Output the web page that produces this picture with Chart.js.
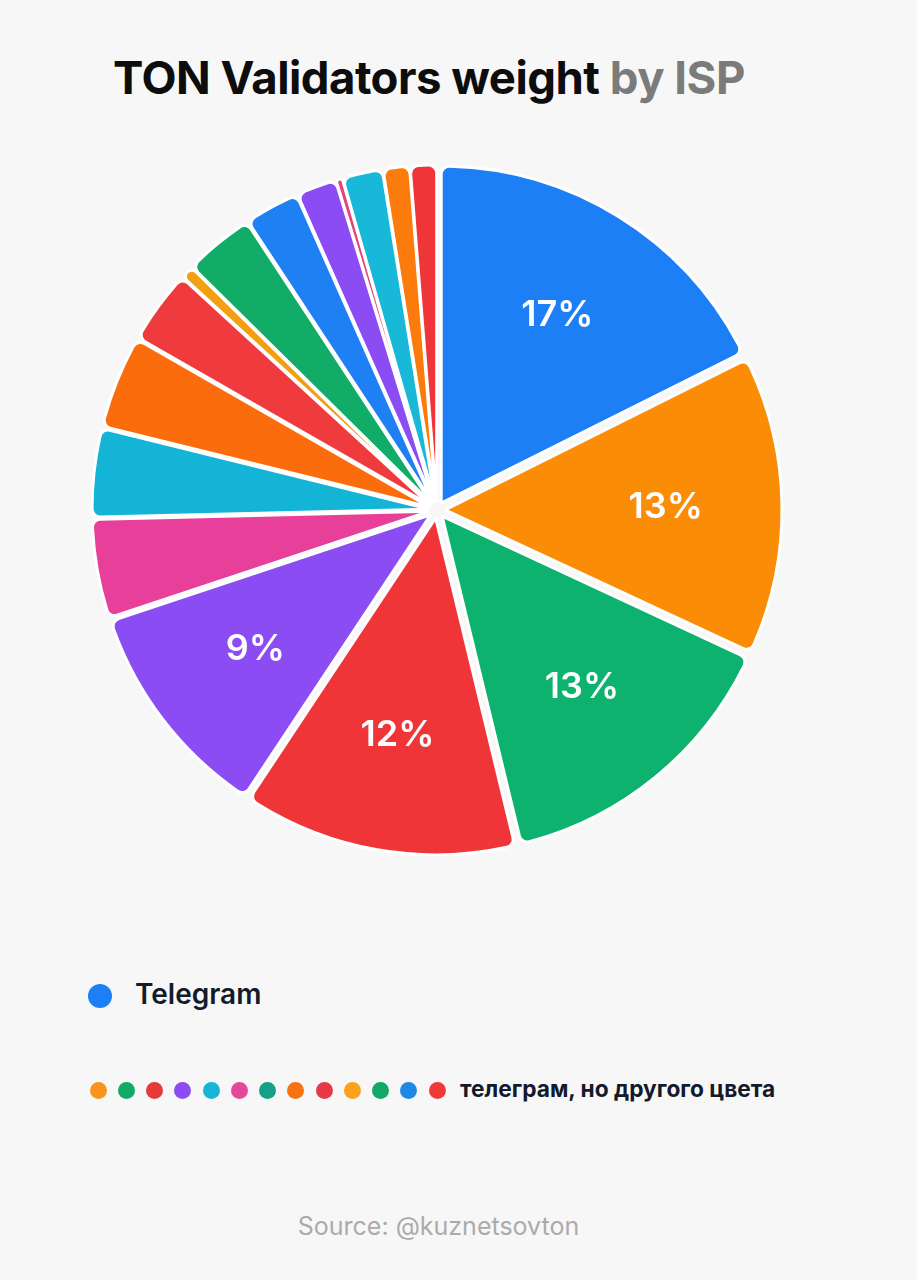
<!DOCTYPE html>
<html>
<head>
<meta charset="utf-8">
<script src="https://cdn.jsdelivr.net/npm/chart.js@4"></script>
<style>
  html, body { margin: 0; padding: 0; }
  body { width: 917px; height: 1280px; background: #f7f7f7; position: relative; overflow: hidden; font-family: Inter, "Noto Sans", sans-serif; }
  #title { position: absolute; left: 113px; top: 50px; font-size: 45.5px; font-weight: 700; color: #0d0d0d; letter-spacing: -0.5px; white-space: nowrap; }
  #title span { color: #7b7b7b; }
  #chartWrap { position: absolute; left: 77px; top: 150px; width: 720px; height: 720px; }
  .dot { position: absolute; border-radius: 50%; }
  #tg { position: absolute; left: 135px; top: 977px; font-size: 28px; font-weight: 600; color: #131a2c; }
  #others { position: absolute; left: 460px; top: 1075px; font-size: 22.7px; font-weight: 700; color: #131a2c; white-space: nowrap; }
  #source { position: absolute; left: 0; width: 877px; top: 1211px; text-align: center; font-size: 25px; color: #ababab; }
</style>
</head>
<body>
<div id="title">TON Validators weight <span>by ISP</span></div>
<div id="chartWrap"><canvas id="pie"></canvas></div>
<div id="legend"></div>
<div id="tg">Telegram</div>
<div id="others">телеграм, но другого цвета</div>
<div id="source">Source: @kuznetsovton</div>
<script>
// slice shares (%), clockwise from 12 o'clock
var sliceValues = [17.5, 14.2, 14.2, 13.0, 10.5, 4.7, 4.2, 4.4, 3.5, 0.6, 3.3, 2.6, 1.9, 0.3, 1.9, 1.25, 1.25];
// printed percentages on the big slices
var sliceLabels = ["17%", "13%", "13%", "12%", "9%", "", "", "", "", "", "", "", "", "", "", "", ""];
var sliceColors = ["#1d7ff6", "#fb8c05", "#0db26f", "#ef3538", "#8b4cf3", "#e8409a", "#14b4d6", "#fb6c0c",
                   "#ef3a3e", "#f2a012", "#10ac68", "#1f80f4", "#8b4cf3", "#e2457c", "#17b8d8", "#fb7b0c", "#ef3538"];
var legendMain = { label: "Telegram", color: "#1d7ff6" };
var legendOtherColors = ["#f7941d", "#12a866", "#e63a3a", "#8b4cf3", "#17b4d6", "#e4489a", "#16a085",
                         "#f57215", "#e53947", "#f9a21a", "#12a866", "#1e88e5", "#ef3a3a"];

// legend dots
var legend = document.getElementById("legend");
function addDot(cx, cy, r, color) {
  var d = document.createElement("div");
  d.className = "dot";
  d.style.left = (cx - r) + "px";
  d.style.top = (cy - r) + "px";
  d.style.width = d.style.height = (2 * r) + "px";
  d.style.background = color;
  legend.appendChild(d);
}
addDot(100, 996, 12, legendMain.color);
for (var i = 0; i < legendOtherColors.length; i++) {
  addDot(98 + i * 28.25, 1090, 8.5, legendOtherColors[i]);
}

var explode = 8;

// push every slice a little out along its mid angle
var explodePlugin = {
  id: "explode",
  afterDatasetsUpdate: function (chart) {
    var area = chart.chartArea;
    var cx = (area.left + area.right) / 2;
    var cy = (area.top + area.bottom) / 2;
    chart.getDatasetMeta(0).data.forEach(function (arc) {
      var mid = (arc.startAngle + arc.endAngle) / 2;
      arc.x = cx + Math.cos(mid) * explode;
      arc.y = cy + Math.sin(mid) * explode;
    });
  }
};

var labelPlugin = {
  id: "sliceLabels",
  afterDatasetsDraw: function (chart) {
    var ctx = chart.ctx;
    ctx.save();
    ctx.fillStyle = "#fdfdfd";
    ctx.font = "600 36px Inter";
    ctx.textAlign = "center";
    ctx.textBaseline = "middle";
    chart.getDatasetMeta(0).data.forEach(function (arc, i) {
      if (!sliceLabels[i]) return;
      var mid = (arc.startAngle + arc.endAngle) / 2;
      var r = arc.outerRadius * 0.655;
      ctx.fillText(sliceLabels[i], arc.x + Math.cos(mid) * r, arc.y + Math.sin(mid) * r);
    });
    ctx.restore();
  }
};

new Chart(document.getElementById("pie"), {
  type: "pie",
  data: {
    labels: sliceLabels,
    datasets: [{
      data: sliceValues,
      backgroundColor: sliceColors,
      borderColor: "#ffffff",
      borderWidth: 3,
      borderRadius: 8
    }]
  },
  options: {
    responsive: true,
    maintainAspectRatio: false,
    animation: false,
    events: [],
    radius: 337,
    layout: { padding: 0 },
    plugins: {
      legend: { display: false },
      tooltip: { enabled: false }
    }
  },
  plugins: [explodePlugin, labelPlugin]
});
</script>
</body>
</html>
